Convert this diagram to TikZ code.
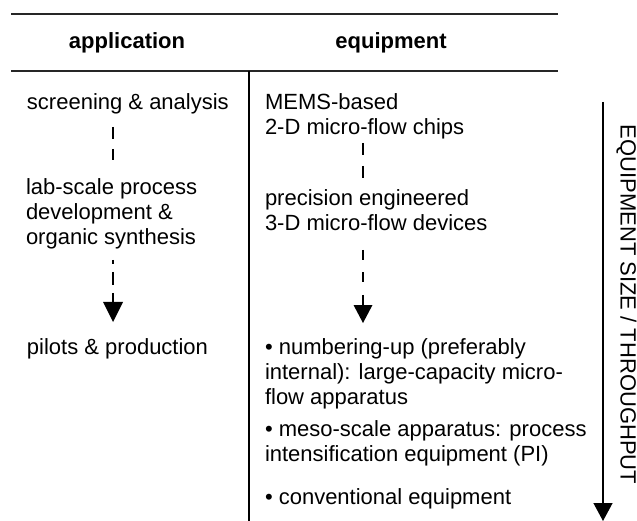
\documentclass[tikz,border=0pt]{standalone}
\usepackage{fontspec}
\setmainfont{Liberation Sans}
\usetikzlibrary{arrows.meta}
\begin{document}
\begin{tikzpicture}[x=1pt,y=-1pt,
  every node/.style={inner sep=0pt, outer sep=0pt, font=\fontsize{22}{25}\selectfont},
  txt/.style={anchor=base west},
  hdr/.style={anchor=base, font=\fontsize{22}{25}\selectfont\bfseries},
  rule/.style={line width=1.4pt, draw=black!85},
  divider/.style={line width=2pt},
  dashar/.style={line width=2.9pt},
  bigarrow/.style={line width=1.3pt, -{Triangle[width=19pt,length=18pt]}}
]
\useasboundingbox (0,0) rectangle (637,521);

% rules
\coordinate (r1a) at (11,14);  \coordinate (r1b) at (558,14);
\coordinate (r2a) at (11,71);  \coordinate (r2b) at (558,71);
\coordinate (dva) at (249,71); \coordinate (dvb) at (249,521);
\draw[rule] (r1a) -- (r1b);
\draw[rule] (r2a) -- (r2b);
\draw[divider] (dva) -- (dvb);

% headers
\node[hdr] (happ) at (127,49) {application};
\node[hdr] (hequ) at (391,49) {equipment};

% left column
\node[txt] (s1) at (27,110) {screening \& analysis};
\node[txt] (l1) at (26,195) {lab-scale process};
\node[txt] (l2) at (26,220) {development \&};
\node[txt] (l3) at (26,245) {organic synthesis};
\node[txt] (p1) at (27,354) {pilots \& production};

% right column
\node[txt] (m1) at (265,110) {MEMS-based};
\node[txt] (m2) at (265,135) {2-D micro-flow chips};
\node[txt] (e1) at (265,206) {precision engineered};
\node[txt] (e2) at (265,231) {3-D micro-flow devices};
\node[txt] (b1) at (265,354) {• numbering-up (preferably};
\node[txt] (b2) at (265,379) {internal): large-capacity micro-};
\node[txt] (b3) at (265,404) {flow apparatus};
\node[txt] (c1) at (265,436) {• meso-scale apparatus: process};
\node[txt] (c2) at (265,461) {intensification equipment (PI)};
\node[txt] (d1) at (265,504) {• conventional equipment};

% vertical label
\node[rotate=-90] (vlab) at (626.5,304.5) {EQUIPMENT SIZE / THROUGHPUT};

% dashed connectors, left
\coordinate (la1) at (113,127); \coordinate (la2) at (113,160);
\coordinate (lb1) at (113,260); \coordinate (lb2) at (113,322);
\draw[dashar, dash pattern=on 12pt off 10pt] (la1) -- (la2);
\draw[dashar, dash pattern=on 13pt off 8pt, dash phase=9pt,
      -{Triangle[width=20pt,length=20pt,line width=0pt]}] (lb1) -- (lb2);

% dashed connectors, right
\coordinate (ra1) at (363,143); \coordinate (ra2) at (363,178);
\coordinate (rb1) at (363,250); \coordinate (rb2) at (363,323);
\draw[dashar, dash pattern=on 12pt off 11pt] (ra1) -- (ra2);
\draw[dashar, dash pattern=on 10pt off 12.5pt,
      -{Triangle[width=19pt,length=18pt,line width=0pt]}] (rb1) -- (rb2);

% size arrow
\coordinate (ga1) at (603,102); \coordinate (ga2) at (603,521);
\draw[bigarrow] (ga1) -- (ga2);
\end{tikzpicture}
\end{document}
